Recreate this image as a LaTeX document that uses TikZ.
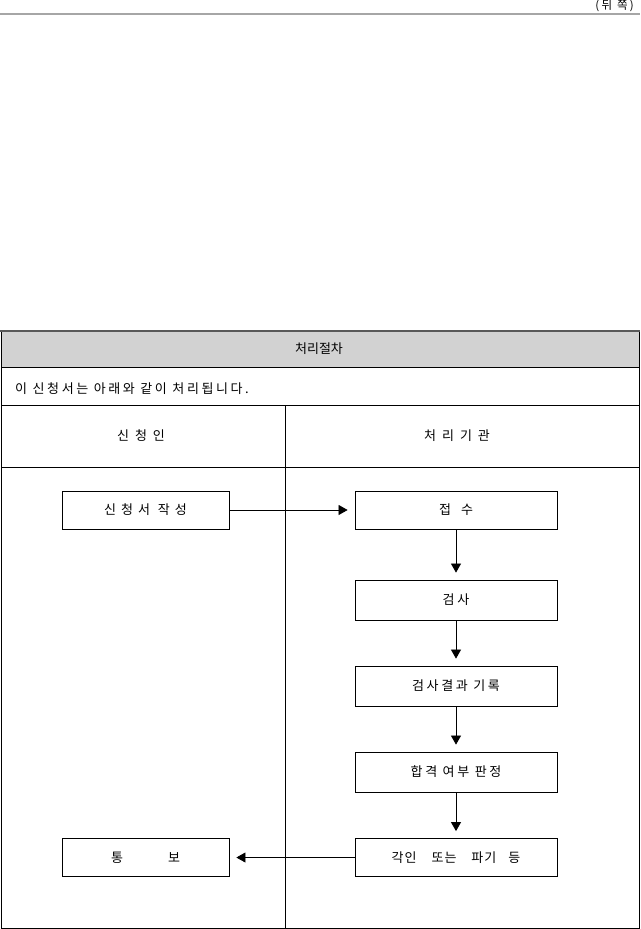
\documentclass[tikz,border=0pt]{standalone}
\usepackage{fontspec}
\setmainfont{Noto Sans CJK KR}[LetterSpace=20]
\usetikzlibrary{arrows.meta}
\newcommand\gp[1]{\hspace*{#1pt}}
\begin{document}
\begin{tikzpicture}[x=1pt,y=-1pt,
  flowbox/.style={draw=black,line width=0.8pt,minimum width=167pt,minimum height=38pt,inner sep=0pt,font=\fontsize{13}{14}\selectfont},
  flowbox2/.style={flowbox,minimum width=202pt},
  lbl/.style={inner sep=0pt,font=\fontsize{13}{14}\selectfont},
  arr/.style={line width=0.7pt,-{Triangle[length=9pt,width=10pt]},shorten >=7pt},
  frame/.style={line width=0.9pt}]
\useasboundingbox (0,0) rectangle (640,929);
\fill[white] (0,0) rectangle (640,929);
% top
\node[lbl,anchor=east,font=\fontsize{11.5}{12}\selectfont] (back) at (634,5.5) {(뒤 쪽)};
\draw[line width=2.5pt,gray!70] (0,14) -- (640,14);
% table
\fill[gray!35] (1,331) rectangle (639,367);
\draw[frame] (1,331) rectangle (639,928);
\draw[line width=2.5pt,gray!70!black] (0,331) -- (640,331);
\draw[frame] (1,367) -- (639,367);
\draw[frame] (1,405) -- (639,405);
\draw[frame] (1,467) -- (639,467);
\draw[frame] (285,405) -- (285,928);
\node[lbl] (title) at (319,349) {\addfontfeature{LetterSpace=0}처리절차};
\node[lbl,anchor=west] (intro) at (15,389) {이 신청서는 아래와 같이 처리됩니다.};
\node[lbl] (hleft) at (141,436) {신\gp{6}청\gp{6}인};
\node[lbl] (hright) at (457,436) {처\gp{6}리\gp{6}기\gp{6}관};
% boxes
\node[flowbox] (write) at (145.5,510) {신\gp{5}청\gp{5}서\gp{8}작\gp{5}성};
\node[flowbox] (notify) at (145.5,857.5) {통\gp{45}보};
\node[flowbox2] (recv) at (456,510) {접\gp{10}수};
\node[flowbox2,minimum height=40pt] (insp) at (456,600) {검사};
\node[flowbox2,minimum height=40pt] (rec) at (456,686) {검사결과 기록};
\node[flowbox2,minimum height=40pt] (judge) at (456,772) {합격 여부 판정};
\node[flowbox2] (stamp) at (456,857.5) {각\gp{1}인\gp{15}또\gp{1}는\gp{15}파\gp{1}기\gp{12}등};
% arrows
\draw[arr] (write) -- (recv);
\draw[arr] (recv) -- (insp);
\draw[arr] (insp) -- (rec);
\draw[arr] (rec) -- (judge);
\draw[arr] (judge) -- (stamp);
\draw[arr] (stamp) -- (notify);
\end{tikzpicture}
\end{document}
